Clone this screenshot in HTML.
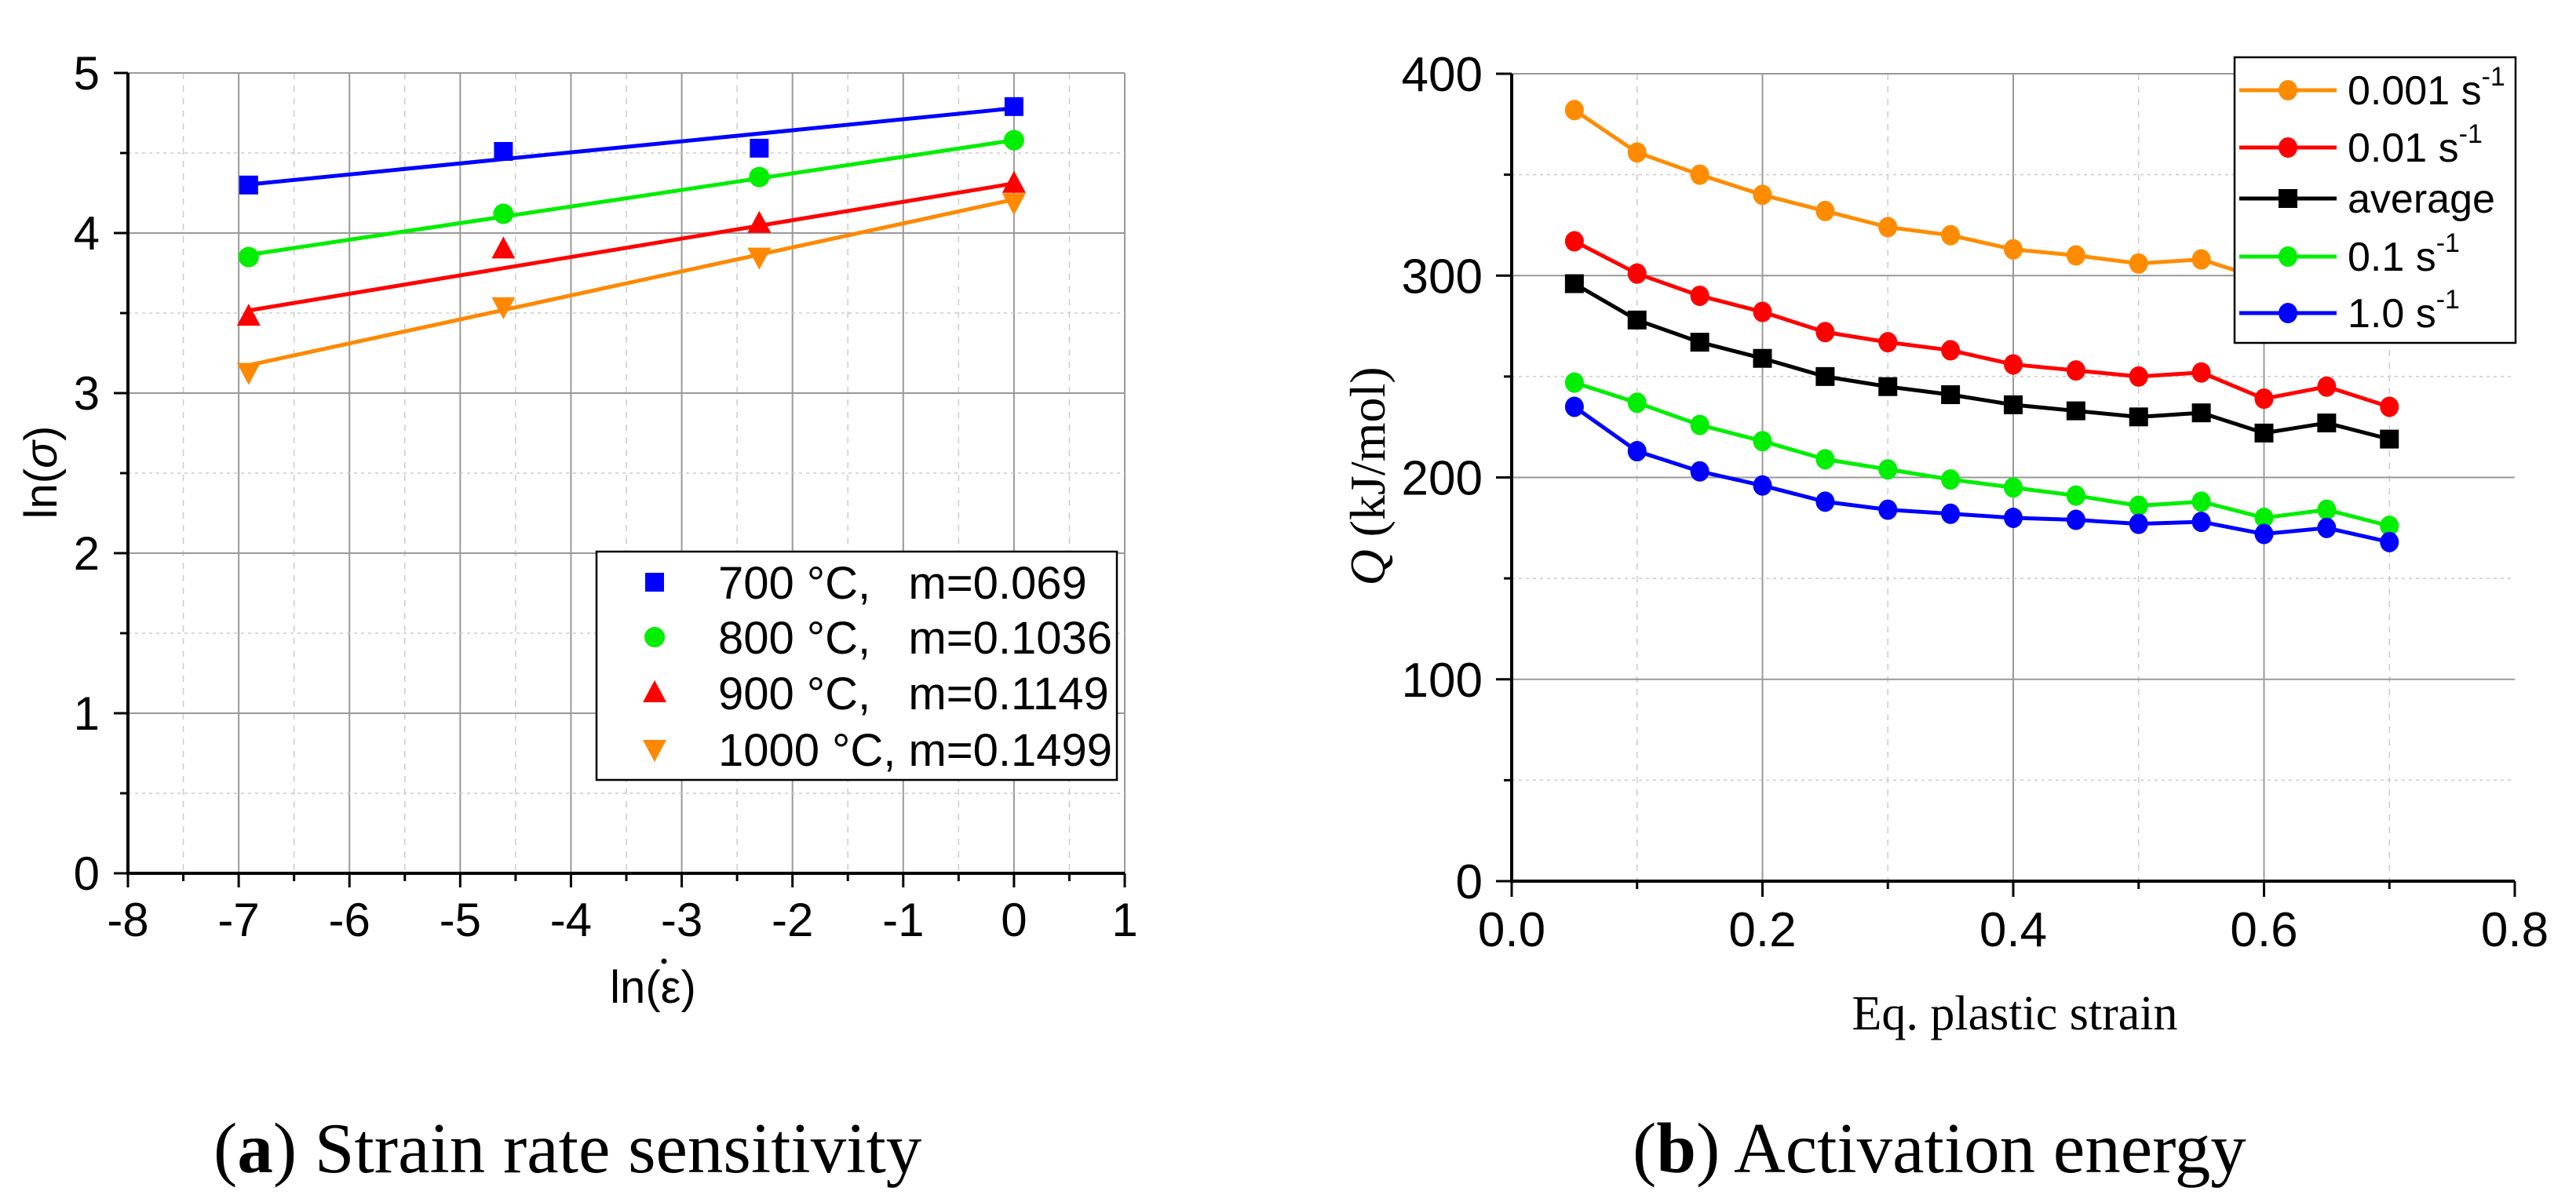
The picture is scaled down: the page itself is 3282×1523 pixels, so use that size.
<!DOCTYPE html>
<html><head><meta charset="utf-8"><style>
html,body{margin:0;padding:0;background:#fff;}
svg{display:block;}
text{font-family:"Liberation Sans",sans-serif;white-space:pre;}
.serif{font-family:"Liberation Serif",serif;}
</style></head><body>
<svg id="svg" width="3282" height="1523" viewBox="0 0 3282 1523" xmlns="http://www.w3.org/2000/svg">
<g id="chartA"></g>
<g id="chartB"></g>
<text class="serif" x="272" y="1494" font-size="91"><tspan>(</tspan><tspan font-weight="bold">a</tspan><tspan>) Strain rate sensitivity</tspan></text>
<text class="serif" x="2080" y="1494" font-size="91"><tspan>(</tspan><tspan font-weight="bold">b</tspan><tspan>) Activation energy</tspan></text>
</svg>
<script>
// ---- Chart A data ----
const aX = [-6.91, -4.61, -2.30, 0];
const a700 = [4.30, 4.51, 4.53, 4.79];
const a800 = [3.85, 4.12, 4.35, 4.58];
const a900 = [3.48, 3.90, 4.06, 4.31];
const a1000 = [3.13, 3.54, 3.85, 4.19];
const aSlopes = [0.069, 0.1036, 0.1149, 0.1499];
const aIntercepts = [4.78, 4.58, 4.31, 4.21];
const aLabels = ["700 °C,   m=0.069", "800 °C,   m=0.1036", "900 °C,   m=0.1149", "1000 °C, m=0.1499"];
const aXTicks = [-8, -7, -6, -5, -4, -3, -2, -1, 0, 1];
const aYTicks = [0, 1, 2, 3, 4, 5];
// ---- Chart B data ----
const bX = [0.05,0.1,0.15,0.2,0.25,0.3,0.35,0.4,0.45,0.5,0.55,0.6,0.65,0.7];
const b0001 = [382,361,350,340,332,324,320,313,310,306,308,298,302,290];
const b001 = [317,301,290,282,272,267,263,256,253,250,252,239,245,235];
const bAvg = [296,278,267,259,250,245,241,236,233,230,232,222,227,219];
const b01 = [247,237,226,218,209,204,199,195,191,186,188,180,184,176];
const b10 = [235,213,203,196,188,184,182,180,179,177,178,172,175,168];
const bXTicks = [0.0, 0.2, 0.4, 0.6, 0.8];
const bYTicks = [0, 100, 200, 300, 400];

const NS = "http://www.w3.org/2000/svg";
function mk(parent, tag, attrs){const e=document.createElementNS(NS,tag);for(const k in attrs)e.setAttribute(k,attrs[k]);parent.appendChild(e);return e;}

// ===== Chart A =====
(function(){
const g=document.getElementById('chartA');
const L=163,R=1433,T=93,B=1113;
const xs=v=>L+(v+8)/9*(R-L);
const ys=v=>B-v/5*(B-T);
for(let v=-7.5;v<=1;v+=0.5){const x=xs(v);const major=Number.isInteger(v);
 const l=mk(g,'line',{x1:x,x2:x,y1:T,y2:B,stroke:major?'#999':'#ccc','stroke-width':major?2:1.5,'stroke-dasharray':major?'none':'8,8'});
 }
for(let v=0.5;v<=5;v+=0.5){const y=ys(v);const major=Number.isInteger(v);
 const l=mk(g,'line',{x1:L,x2:R,y1:y,y2:y,stroke:major?'#999':'#ccc','stroke-width':major?2:1.5,'stroke-dasharray':major?'none':'4,5'});
 }
const ax=mk(g,'line',{x1:L,x2:L,y1:T,y2:B+2,stroke:'#000','stroke-width':4});

const bx=mk(g,'line',{x1:L-2,x2:R,y1:B,y2:B,stroke:'#000','stroke-width':4});

for(let v=-8;v<=1;v+=0.5){const x=xs(v);mk(g,'line',{x1:x,x2:x,y1:B,y2:B+(Number.isInteger(v)?18:10),stroke:'#000','stroke-width':3});}
for(let v=0;v<=5;v+=0.5){const y=ys(v);mk(g,'line',{x1:L,x2:L-(Number.isInteger(v)?18:10),y1:y,y2:y,stroke:'#000','stroke-width':3});}
aXTicks.forEach(v=>{const t=mk(g,'text',{x:xs(v),y:B+80,'font-size':60,'text-anchor':'middle'});t.textContent=String(v);
 });
aYTicks.forEach(v=>{const t=mk(g,'text',{x:127,y:ys(v)+21,'font-size':60,'text-anchor':'end'});t.textContent=String(v);
 });
const xt=mk(g,'text',{x:832,y:1278,'font-size':58,'text-anchor':'middle'});xt.textContent='ln(ε)';

const dot=mk(g,'circle',{cx:846,cy:1225,r:3.5,fill:'#000'});

const yt=mk(g,'text',{x:0,y:0,'font-size':58,'text-anchor':'middle',transform:'translate(72,602) rotate(-90)'});
yt.innerHTML='ln(<tspan font-style="italic">σ</tspan>)';

const colors=['#0000ff','#00ee00','#ff0000','#ff8800'];
const series=[a700,a800,a900,a1000];
const shapes=['square','circle','up','down'];
function marker(par,shape,x,y,c){
 if(shape==='square')return mk(par,'rect',{x:x-12,y:y-12,width:24,height:24,fill:c});
 if(shape==='circle')return mk(par,'circle',{cx:x,cy:y,r:13,fill:c});
 if(shape==='up')return mk(par,'polygon',{points:`${x},${y-16} ${x-15},${y+12} ${x+15},${y+12}`,fill:c});
 return mk(par,'polygon',{points:`${x},${y+16} ${x-15},${y-12} ${x+15},${y-12}`,fill:c});
}
series.forEach((arr,i)=>{
 const sg=mk(g,'g',{});
 const x0=aX[0],x1=aX[aX.length-1];
 const ln=mk(sg,'line',{x1:xs(x0),y1:ys(aIntercepts[i]+aSlopes[i]*x0),x2:xs(x1),y2:ys(aIntercepts[i]+aSlopes[i]*x1),stroke:colors[i],'stroke-width':5});
 
 arr.forEach((v,j)=>{const m=marker(sg,shapes[i],xs(aX[j]),ys(v),colors[i]);
  });
});
const lg=mk(g,'g',{});
mk(lg,'rect',{x:760,y:703,width:663,height:291,fill:'#fff',stroke:'#000','stroke-width':2.5});
const rows=[742,812,883,955];
aLabels.forEach((lab,i)=>{const e=mk(lg,'g',{});
 marker(e,shapes[i],834,rows[i],colors[i]);
 const t=mk(e,'text',{x:915,y:rows[i]+21,'font-size':58});t.textContent=lab;
 t.setAttribute('xml:space','preserve');
 });
})();

// ===== Chart B =====
(function(){
const g=document.getElementById('chartB');
const L=1926,R=3204,T=94,B=1123;
const xs=v=>L+v/0.8*(R-L);
const ys=v=>B-v/400*(B-T);
for(let k=1;k<8;k++){const v=k*0.1;const x=xs(v);const major=k%2===0;
 const l=mk(g,'line',{x1:x,x2:x,y1:T,y2:B,stroke:major?'#999':'#ccc','stroke-width':major?2:1.5,'stroke-dasharray':major?'none':'8,8'});
 }
for(let k=1;k<=8;k++){const v=k*50;const y=ys(v);const major=k%2===0;
 const l=mk(g,'line',{x1:L,x2:R,y1:y,y2:y,stroke:major?'#999':'#ccc','stroke-width':major?2:1.5,'stroke-dasharray':major?'none':'4,5'});
 }
const ax=mk(g,'line',{x1:L,x2:L,y1:T,y2:B+2,stroke:'#000','stroke-width':4});

const bx=mk(g,'line',{x1:L-2,x2:R,y1:B,y2:B,stroke:'#000','stroke-width':4});

for(let k=0;k<=8;k++){const x=xs(k*0.1);mk(g,'line',{x1:x,x2:x,y1:B,y2:B+(k%2===0?20:10),stroke:'#000','stroke-width':3});}
for(let k=0;k<=8;k++){const y=ys(k*50);mk(g,'line',{x1:L,x2:L-(k%2===0?20:10),y1:y,y2:y,stroke:'#000','stroke-width':3});}
bXTicks.forEach(v=>{const t=mk(g,'text',{x:xs(v),y:1206,'font-size':62,'text-anchor':'middle'});t.textContent=v.toFixed(1);
 });
bYTicks.forEach(v=>{const t=mk(g,'text',{x:1889,y:ys(v)+22,'font-size':62,'text-anchor':'end'});t.textContent=String(v);
 });
const xt=mk(g,'text',{x:2567,y:1312,'font-size':62,'text-anchor':'middle','class':'serif'});xt.textContent='Eq. plastic strain';

const yt=mk(g,'text',{x:0,y:0,'font-size':64,'text-anchor':'middle','class':'serif',transform:'translate(1764,607) rotate(-90)'});
yt.innerHTML='<tspan font-style="italic">Q</tspan> (kJ/mol)';

const series=[b0001,b001,bAvg,b01,b10];
const colors=['#ff8c00','#ff0000','#000000','#00ee00','#0000ff'];
const names=['rate-0.001','rate-0.01','average','rate-0.1','rate-1.0'];
function marker(par,i,x,y){
 if(i===2)return mk(par,'rect',{x:x-12,y:y-12,width:24,height:24,fill:colors[i]});
 return mk(par,'ellipse',{cx:x,cy:y,rx:12,ry:13,fill:colors[i]});
}
series.forEach((arr,i)=>{
 const sg=mk(g,'g',{});
 const pts=arr.map((v,j)=>xs(bX[j])+','+ys(v)).join(' ');
 const pl=mk(sg,'polyline',{points:pts,fill:'none',stroke:colors[i],'stroke-width':5,'stroke-linejoin':'round'});
 
 arr.forEach((v,j)=>{const m=marker(sg,i,xs(bX[j]),ys(v));
  });
});
const lg=mk(g,'g',{});
mk(lg,'rect',{x:2847,y:73,width:358,height:364,fill:'#fff',stroke:'#000','stroke-width':2.5});
const rows=[115,188,253,327,399];
const labs=[['0.001 s','-1'],['0.01 s','-1'],['average',''],['0.1 s','-1'],['1.0 s','-1']];
labs.forEach((lb,i)=>{const e=mk(lg,'g',{});
 mk(e,'line',{x1:2853,x2:2977,y1:rows[i],y2:rows[i],stroke:colors[i],'stroke-width':5});
 marker(e,i,2915,rows[i]);
 const t=mk(e,'text',{x:2991,y:rows[i]+18,'font-size':52});
 t.innerHTML=lb[0]+(lb[1]?'<tspan dy="-24" font-size="34">'+lb[1]+'</tspan>':'');
 });
})();
</script>
</body></html>
